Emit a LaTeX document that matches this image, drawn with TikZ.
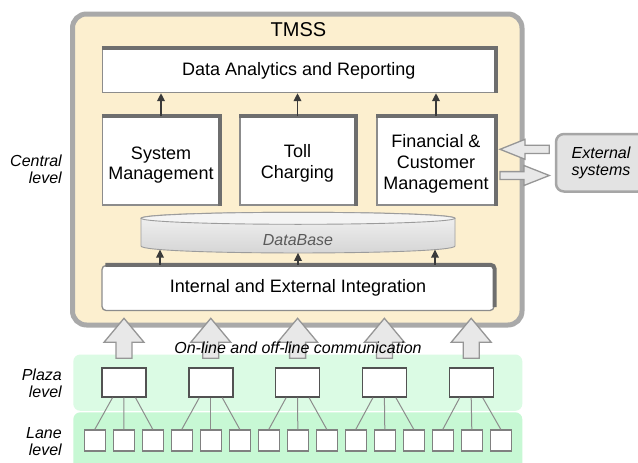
\documentclass[tikz,border=0pt]{standalone}
\usepackage{fontspec}
\setmainfont{Liberation Sans}
\usetikzlibrary{arrows.meta}
\definecolor{tmssfill}{HTML}{FCEFCF}
\definecolor{tmssedge}{HTML}{A9A9A9}
\definecolor{modedge}{HTML}{8C8C8C}
\definecolor{modthick}{HTML}{6E6E6E}
\definecolor{plazafill}{HTML}{DBFBE4}
\definecolor{lanefill}{HTML}{C7F8D4}
\definecolor{blockfill}{HTML}{E8E8E8}
\definecolor{blockedge}{HTML}{969696}
\definecolor{extfill}{HTML}{E3E3E3}
\definecolor{extedge}{HTML}{A6A6A6}
\definecolor{arrowdark}{HTML}{3A3A3A}
\definecolor{dbedge}{HTML}{9C9C9C}
\definecolor{dbtop}{HTML}{F4F4F4}
\definecolor{dbbot}{HTML}{D4D4D4}
\definecolor{dbtext}{HTML}{5A5A5A}
\begin{document}
\begin{tikzpicture}[x=1pt,y=-1pt,
  module/.style={draw=modedge, line width=1.3pt, fill=white, inner sep=0pt, align=center, font=\fontsize{18}{20.7}\selectfont},
  thickedge/.style={draw=modthick, line width=4pt},
  smallarr/.style={draw=arrowdark, line width=1.8pt, -{Triangle[length=8pt,width=7.5pt]}},
  blockarr/.style={fill=blockfill, draw=blockedge, line width=1.3pt, line join=miter},
  plazabox/.style={draw=black!68, fill=white, line width=1.4pt, minimum width=44pt, minimum height=29pt, inner sep=0pt},
  lanebox/.style={draw=black!50, fill=white, line width=1.2pt, minimum width=21pt, minimum height=21pt, inner sep=0pt},
  feed/.style={draw=black!45, line width=1pt},
  lvl/.style={font=\fontsize{16}{16.6}\selectfont\itshape, align=right, anchor=east, inner sep=0pt}]
\useasboundingbox (0,0) rectangle (638,463);
\fill[white] (0,0) rectangle (638,463);

% level bands
\fill[plazafill, rounded corners=7pt] (73.3,354.5) rectangle (522.3,410.8);
\fill[lanefill, rounded corners=7pt] (73.3,412.3) rectangle (522.3,478);

% TMSS container
\node[draw=tmssedge, line width=5pt, fill=tmssfill, rounded corners=14pt, minimum width=449.5pt, minimum height=311pt, inner sep=0pt] (tmss) at (297.25,169.5) {};
\node[font=\fontsize{20}{24}\selectfont, inner sep=0pt] (title) at (298.5,29.8) {TMSS};

% modules
\node[module, minimum width=392.5pt, minimum height=44pt] (da) at (298.75,70.5) {Data Analytics and Reporting};
\node[module, minimum width=117pt, minimum height=88pt] (sm) at (161,161) {\rule{0pt}{21pt}System\\Management};
\node[module, minimum width=115pt, minimum height=88pt] (tc) at (297.5,161) {\rule{0pt}{18pt}Toll\\Charging};
\node[module, minimum width=118pt, minimum height=88pt] (fc) at (436,161) {\rule{0pt}{18.5pt}Financial \&\\Customer\\Management};
\foreach \n in {da,sm,tc,fc} \draw[thickedge] (\n.north west) -- (\n.north east) -- (\n.south east);
\foreach \n in {sm,tc,fc} \draw[smallarr] (\n.north) -- (\n.north |- da.south);

% database
\path[draw=dbedge, line width=0.9pt, top color=dbtop, bottom color=dbbot]
  (141,218.3) -- (141,246) .. controls (141,255.3) and (455,255.3) .. (455,246) -- (455,218.3)
  .. controls (455,210.3) and (141,210.3) .. (141,218.3) -- cycle;
\draw[dbedge, line width=0.9pt, fill=dbtop] (298,218.3) ellipse [x radius=157pt, y radius=6pt];
\node[font=\fontsize{16}{19}\selectfont\itshape, text=dbtext, inner sep=0pt] (db) at (298,240) {DataBase};

% integration
\node[module, rounded corners=4pt, minimum width=392pt, minimum height=45pt] (int) at (298,288) {Internal and External Integration};
\draw[thickedge, rounded corners=4pt] ([xshift=4pt]int.north west) -- (int.north east) -- ([yshift=4pt]int.south east);
\coordinate (dbl) at (160,249.6);
\coordinate (dbm) at (298,252.8);
\coordinate (dbr) at (435,249.6);
\foreach \c in {dbl,dbm,dbr} \draw[smallarr] (int.north -| \c) -- (\c);

% plaza and lane equipment
\foreach \i in {0,...,4} \node[plazabox] (p\i) at ({124+86.8*\i},382.5) {};
\foreach \k in {0,...,14} \node[lanebox] (l\k) at ({94.8+29*\k},440.5) {};
\foreach \i in {0,...,4} {
  \pgfmathtruncatemacro\la{3*\i}
  \pgfmathtruncatemacro\lb{3*\i+1}
  \pgfmathtruncatemacro\lc{3*\i+2}
  \draw[feed] ([xshift=-11.5pt]p\i.south) -- (l\la.north);
  \draw[feed] (p\i.south) -- (l\lb.north);
  \draw[feed] ([xshift=11.5pt]p\i.south) -- (l\lc.north);
}

% upward block arrows
\foreach \i in {0,...,4}
  \draw[blockarr] ([xshift=-8pt,yshift=9pt]p\i.north) -- ++(0,-16) -- ++(-12,0) -- ++(20,-24) -- ++(20,24) -- ++(-12,0) -- ++(0,16) -- cycle;

\node[font=\fontsize{16}{19}\selectfont\itshape, inner sep=0pt] (comm) at (298,348) {On-line and off-line communication};

% external systems
\node[draw=extedge, line width=2.5pt, fill=extfill, rounded corners=8pt, minimum width=90pt, minimum height=57.5pt, align=center, font=\fontsize{16}{17.7}\selectfont\itshape, inner sep=0pt] (ext) at (601,162.75) {External\\systems};
\draw[blockarr] (549.3,145.2) -- (525,145.2) -- (525,139.3) -- (500,149.3) -- (525,159.3) -- (525,153.4) -- (549.3,153.4) -- cycle;
\draw[blockarr] (500,171.6) -- (524,171.6) -- (524,165.5) -- (549.3,175.5) -- (524,185.5) -- (524,179.4) -- (500,179.4) -- cycle;

% level labels
\node[lvl] (central) at (62,169.2) {Central\\level};
\node[lvl] (plaza) at (62,383.3) {Plaza\\level};
\node[lvl] (lane) at (62,441.3) {Lane\\level};
\end{tikzpicture}
\end{document}
